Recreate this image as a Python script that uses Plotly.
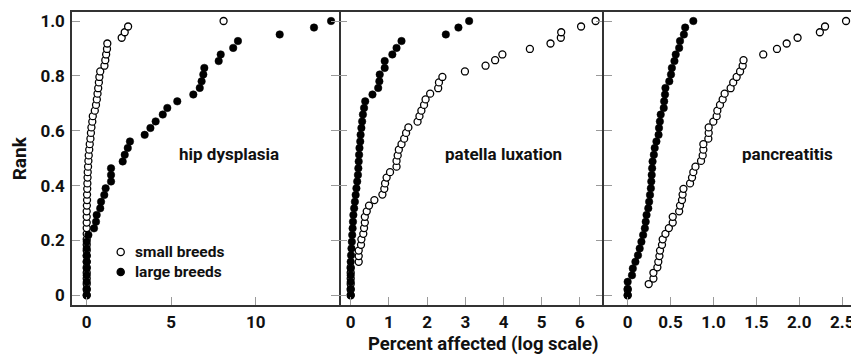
import plotly.graph_objects as go

# ---------------- data ----------------
panel_names = ["hip dysplasia", "patella luxation", "pancreatitis"]

rank_50 = [0, .020, .041, .061, .082, .102, .122, .143, .163, .184, .204, .224, .245, .265,
           .286, .306, .327, .347, .367, .388, .408, .429, .449, .469, .490, .510, .531, .551,
           .571, .592, .612, .633, .653, .673, .694, .714, .735, .755, .776, .796, .816, .837,
           .857, .878, .898, .918, .939, .959, .980, 1.0]
rank_42 = [0, .024, .049, .073, .098, .122, .146, .171, .195, .220, .244, .268, .293, .317,
           .341, .366, .390, .415, .439, .463, .488, .512, .537, .561, .585, .610, .634, .659,
           .683, .707, .732, .756, .780, .805, .829, .854, .878, .902, .927, .951, .976, 1.0]

hip_small = [0, 0, 0, 0, 0, 0, 0, 0, 0, 0, 0, 0, 0, 0, 0, 0.0, 0.01, 0.02, 0.02, 0.03,
             0.04, 0.05, 0.06, 0.08, 0.1, 0.12, 0.15, 0.18, 0.22, 0.25, 0.28, 0.33, 0.36, 0.48,
             0.55, 0.6, 0.64, 0.68, 0.72, 0.75, 0.8, 1.05, 1.1, 1.15, 1.2, 1.22, 2.07, 2.25,
             2.45, 8.1]
hip_large = [0, 0, 0, 0, 0, 0, 0, 0, 0, 0.1, 0.43, 0.55, 0.59, 0.8, 0.85, 1.04, 1.12, 1.44,
             1.44, 1.44, 2.13, 2.25, 2.43, 2.56, 3.43, 3.77, 4.08, 4.5, 4.77, 5.36, 6.31, 6.69,
             6.8, 6.9, 6.96, 7.81, 7.93, 8.67, 8.95, 11.42, 13.45, 14.46]

patella_small = [0, 0, 0, 0, 0, 0, 0.21, 0.21, 0.21, 0.27, 0.28, 0.33, 0.35, 0.37, 0.37, 0.42,
                 0.48, 0.62, 0.83, 0.88, 0.9, 0.94, 1.03, 1.2, 1.2, 1.23, 1.26, 1.33, 1.4, 1.45,
                 1.51, 1.75, 1.8, 1.85, 1.92, 1.96, 2.08, 2.29, 2.31, 2.4, 2.99, 3.53, 3.78,
                 3.97, 4.69, 5.23, 5.5, 5.51, 6.03, 6.41]
patella_large = [0, 0, 0, 0, 0, 0, 0.01, 0.02, 0.03, 0.04, 0.05, 0.06, 0.07, 0.09, 0.11, 0.13,
                 0.15, 0.17, 0.19, 0.2, 0.21, 0.22, 0.23, 0.25, 0.26, 0.28, 0.3, 0.32, 0.35,
                 0.38, 0.57, 0.72, 0.75, 0.76, 0.89, 0.89, 1.09, 1.2, 1.33, 2.49, 2.82, 3.1]

pancreatitis_small = [0, 0, 0.245, 0.3, 0.3, 0.346, 0.357, 0.37, 0.377, 0.4, 0.408, 0.44, 0.48,
                      0.525, 0.525, 0.6, 0.61, 0.633, 0.64, 0.65, 0.727, 0.75, 0.765, 0.79,
                      0.855, 0.874, 0.882, 0.882, 0.94, 0.944, 0.944, 0.998, 1.037, 1.045,
                      1.076, 1.107, 1.13, 1.2, 1.23, 1.27, 1.31, 1.34, 1.35, 1.58, 1.74, 1.853,
                      1.98, 2.24, 2.3, 2.545]
pancreatitis_large = [0, 0, 0, 0.05, 0.06, 0.09, 0.12, 0.14, 0.16, 0.18, 0.2, 0.21, 0.22, 0.24,
                      0.25, 0.26, 0.27, 0.275, 0.28, 0.285, 0.29, 0.305, 0.315, 0.335, 0.36,
                      0.365, 0.375, 0.385, 0.42, 0.425, 0.435, 0.44, 0.485, 0.505, 0.515, 0.545,
                      0.56, 0.6, 0.61, 0.655, 0.67, 0.765]

x_tick_vals = [[0, 5, 10], [0, 1, 2, 3, 4, 5, 6], [0, 0.5, 1.0, 1.5, 2.0, 2.5]]
x_tick_text = [["0", "5", "10"], ["0", "1", "2", "3", "4", "5", "6"],
               ["0", "0.5", "1.0", "1.5", "2.0", "2.5"]]
y_tick_vals = [0, 0.2, 0.4, 0.6, 0.8, 1.0]
y_tick_text = ["0", "0.2", "0.4", "0.6", "0.8", "1.0"]
x_ranges = [[-0.87, 14.93], [-0.306, 6.63], [-0.276, 2.696]]
y_range = [-0.0354, 1.0328]

small_series = [hip_small, patella_small, pancreatitis_small]
large_series = [hip_large, patella_large, pancreatitis_large]

# ---------------- layout geometry ----------------
# The page body has an 8 px margin, so the figure starts at (8, 8) of the window.
OFF = 8
W, H = 859 - OFF, 363 - OFF
ML, MT = 72 - OFF, 12 - OFF
PLOT_BOTTOM = 305 - OFF
MB = H - PLOT_BOTTOM
PW = W - ML
PH = PLOT_BOTTOM - MT
domains = [[0, (339 - 72) / PW], [(339 - 72) / PW, (604 - 72) / PW], [(604 - 72) / PW, 1.0]]

def px_x(p):          # window pixel -> paper x
    return (p - OFF - ML) / PW

def px_y(p):          # window pixel -> paper y
    return (PLOT_BOTTOM - (p - OFF)) / PH

FONT = "Roboto"
LINE = "#333333"
TICK = "#9a9a9a"

fig = go.Figure()
for k in range(3):
    ax = "" if k == 0 else str(k + 1)
    fig.add_trace(go.Scatter(
        x=small_series[k], y=rank_50, mode="markers", showlegend=False,
        xaxis="x" + ax, yaxis="y" + ax,
        marker=dict(symbol="circle", size=7, color="white",
                    line=dict(color="black", width=1.3))))
    fig.add_trace(go.Scatter(
        x=large_series[k], y=rank_42, mode="markers", showlegend=False,
        xaxis="x" + ax, yaxis="y" + ax,
        marker=dict(symbol="circle", size=7.5, color="black",
                    line=dict(color="black", width=0.5))))

tickfont = dict(family=FONT, size=17, color="#111", weight="bold")
# one vertical line per panel boundary: y1 left+mirror, y2 no line, y3 left only
y_showline = [True, False, True]
y_mirror = ["ticks", "ticks", False]
for k in range(3):
    ax = "" if k == 0 else str(k + 1)
    fig.update_layout(**{
        "xaxis" + ax: dict(
            domain=domains[k], range=x_ranges[k], anchor="y" + ax,
            tickvals=x_tick_vals[k], ticktext=x_tick_text[k],
            ticks="inside", ticklen=8, tickwidth=1, tickcolor=TICK,
            showline=True, linecolor=LINE, linewidth=1.5, mirror=True,
            showgrid=False, zeroline=False, tickfont=tickfont, ticklabelstandoff=1),
        "yaxis" + ax: dict(
            domain=[0, 1], range=y_range, anchor="x" + ax,
            tickvals=y_tick_vals, ticktext=y_tick_text,
            ticks="inside", ticklen=8, tickwidth=1, tickcolor=TICK,
            showline=y_showline[k], linecolor=LINE, linewidth=1.5,
            mirror=y_mirror[k],
            showticklabels=(k == 0),
            showgrid=False, zeroline=False, tickfont=tickfont, ticklabelstandoff=2),
    })

annotations = []
label_x = [228.8, 503.8, 787]
for k in range(3):
    annotations.append(dict(
        text=panel_names[k], xref="paper", yref="paper", x=px_x(label_x[k]), y=px_y(154),
        xanchor="center", yanchor="middle", showarrow=False,
        font=dict(family=FONT, size=17, color="#111", weight="bold")))

annotations.append(dict(
    text="Percent affected (log scale)", xref="paper", yref="paper",
    x=px_x(483), y=px_y(343.5), xanchor="center", yanchor="middle", showarrow=False,
    font=dict(family=FONT, size=18.5, color="#111", weight="bold")))
annotations.append(dict(
    text="Rank", xref="paper", yref="paper", textangle=-90,
    x=px_x(19), y=px_y(158.3), xanchor="center", yanchor="middle", showarrow=False,
    font=dict(family=FONT, size=19, color="#111", weight="bold")))

legend_labels = ["small breeds", "large breeds"]
legend_y = [252, 272]
for lab, ly in zip(legend_labels, legend_y):
    annotations.append(dict(
        text=lab, xref="paper", yref="paper", x=px_x(133), y=px_y(ly),
        xanchor="left", yanchor="middle", showarrow=False,
        font=dict(family=FONT, size=15.5, color="#111", weight="bold")))

shapes = []
for ly, fill in zip(legend_y, ["white", "black"]):
    shapes.append(dict(
        type="circle", xref="paper", yref="paper",
        xsizemode="pixel", ysizemode="pixel",
        xanchor=px_x(120.7), yanchor=px_y(ly),
        x0=-3.6, x1=3.6, y0=-3.6, y1=3.6,
        fillcolor=fill, line=dict(color="black", width=1.3)))

fig.update_layout(
    width=W, height=H,
    margin=dict(l=ML, r=0, t=MT, b=MB, pad=0),
    paper_bgcolor="white", plot_bgcolor="white",
    annotations=annotations, shapes=shapes,
    showlegend=False,
)

fig.write_html("out.html")
